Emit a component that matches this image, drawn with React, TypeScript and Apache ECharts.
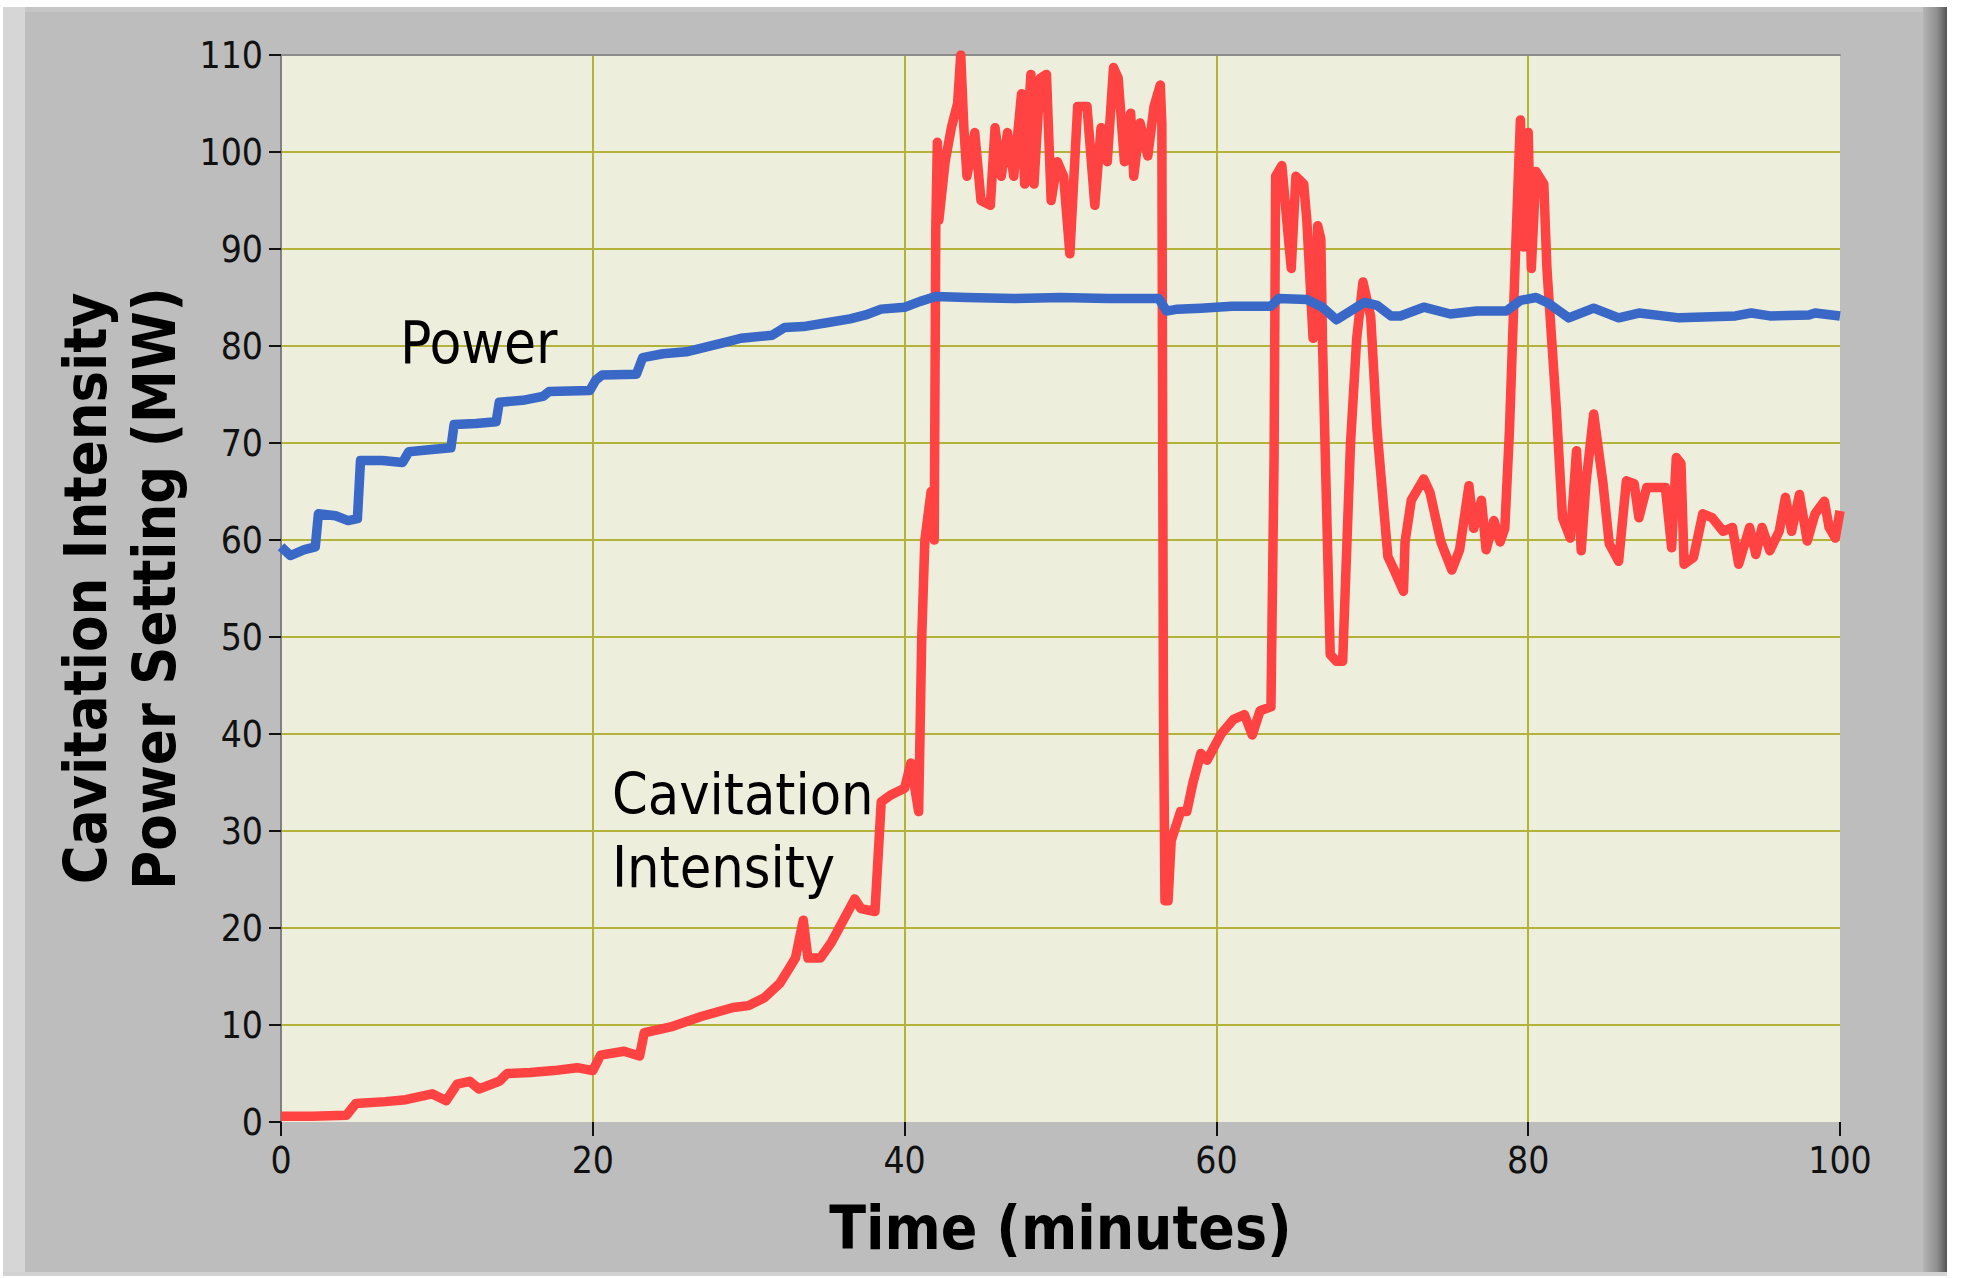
import React, { useEffect, useRef } from "react";
import * as echarts from "echarts";

// ---- data ----
const xTicks = [0, 20, 40, 60, 80, 100];
const yTicks = [0, 10, 20, 30, 40, 50, 60, 70, 80, 90, 100, 110];

const powerTime = [
  0, 0.6, 1.5, 2.2, 2.4, 3.5, 4.3, 4.9, 5.1, 6.5, 7.8, 8.2, 9.5, 10.9, 11.1, 12.5,
  13.8, 14.0, 15.5, 16.8, 17.2, 19.8, 20.2, 20.6, 22.8, 23.2, 24.5, 26.0, 27.3, 28.8,
  29.5, 31.5, 32.3, 33.5, 35.0, 36.5, 37.5, 38.5, 40.0, 41.0, 42.0, 44.0, 47.0, 50.0,
  53.0, 56.3, 56.8, 57.5, 59.0, 61.0, 63.5, 64.0, 65.8, 66.8, 67.7, 68.6, 69.5, 70.3,
  71.2, 71.8, 73.3, 75.0, 76.7, 78.6, 79.5, 80.5, 81.3, 82.6, 84.2, 85.8, 87.1, 89.7,
  93.3, 94.3, 95.5, 98.0, 98.4, 100,
];
const powerValue = [
  59.3, 58.4, 59.0, 59.3, 62.7, 62.5, 62.0, 62.2, 68.2, 68.2, 68.0, 69.1, 69.3, 69.5, 71.9, 72.0,
  72.2, 74.2, 74.4, 74.8, 75.3, 75.4, 76.5, 77.0, 77.1, 78.8, 79.2, 79.4, 79.9, 80.5,
  80.8, 81.1, 81.9, 82.0, 82.4, 82.8, 83.2, 83.8, 84.0, 84.6, 85.1, 85.0, 84.9, 85.0,
  84.9, 84.9, 83.6, 83.8, 83.9, 84.1, 84.1, 84.9, 84.8, 84.0, 82.7, 83.6, 84.5, 84.2,
  83.1, 83.1, 84.0, 83.3, 83.6, 83.6, 84.7, 85.0, 84.4, 82.9, 83.9, 82.9, 83.4, 82.9,
  83.1, 83.4, 83.1, 83.2, 83.4, 83.1,
];

const cavTime = [
  0, 2.0, 4.2, 4.8, 6.7, 8.0, 9.7, 10.6, 11.3, 12.1, 12.7, 14.0, 14.5, 16.0, 17.5, 19.0,
  20.0, 20.5, 22.0, 23.0, 23.3, 25.0, 27.0, 29.0, 30.0, 31.0, 32.0, 32.5, 33.0, 33.5,
  33.8, 34.6, 35.3, 36.0, 36.8, 37.2, 38.1, 38.5, 39.1, 40.0, 40.4, 40.9, 41.1, 41.3,
  41.7, 41.9, 42.0, 42.1, 42.2, 42.6, 43.0, 43.4, 43.6, 43.8, 44.0, 44.5, 44.9, 45.5,
  45.8, 46.2, 46.6, 47.0, 47.5, 47.7, 48.1, 48.3, 48.7, 49.1, 49.4, 49.8, 50.2, 50.6,
  51.1, 51.7, 52.2, 52.6, 53.0, 53.4, 53.7, 54.1, 54.5, 54.7, 55.1, 55.6, 56.0, 56.4,
  56.5, 56.6, 56.7, 56.9, 57.1, 57.7, 58.1, 58.5, 59.0, 59.4, 60.3, 61.1, 61.8, 62.3,
  62.8, 63.5, 63.7, 63.8, 64.2, 64.4, 64.8, 65.1, 65.6, 65.8, 66.2, 66.5, 66.7, 66.8,
  67.3, 67.7, 68.1, 68.6, 69.0, 69.4, 69.9, 70.3, 71.0, 71.4, 72.0, 72.1, 72.5, 73.3,
  73.7, 74.4, 75.1, 75.6, 76.2, 76.5, 77.0, 77.3, 77.8, 78.2, 78.5, 78.8, 79.2, 79.5,
  79.7, 80.0, 80.2, 80.5, 81.0, 81.2, 81.5, 81.8, 82.2, 82.7, 83.1, 83.4, 83.7, 84.2,
  84.8, 85.2, 85.8, 86.3, 86.8, 87.1, 87.6, 88.8, 89.2, 89.5, 89.8, 90.0, 90.6, 91.2,
  91.8, 92.5, 93.1, 93.5, 94.2, 94.6, 95.0, 95.5, 96.1, 96.5, 96.9, 97.4, 97.9, 98.4,
  99.0, 99.3, 99.7, 100,
];
const cavValue = [
  0.6, 0.6, 0.7, 1.9, 2.1, 2.3, 2.9, 2.2, 3.9, 4.2, 3.4, 4.2, 5.0, 5.1, 5.3, 5.6,
  5.3, 6.9, 7.3, 6.8, 9.2, 9.8, 10.9, 11.8, 12.0, 12.8, 14.3, 15.6, 16.9, 20.8,
  16.9, 16.9, 18.5, 20.6, 23.0, 22.0, 21.7, 33.0, 33.7, 34.4, 37.0, 32.0, 50.0, 60.0,
  65.0, 60.0, 92.0, 101.0, 93.0, 99.0, 102.5, 105.0, 110.0, 102.5, 97.5, 102.0, 95.0, 94.5,
  102.5, 97.5, 102.0, 97.5, 106.0, 96.7, 108.0, 96.7, 107.6, 108.0, 95.0, 99.0, 97.5, 89.5,
  104.7, 104.7, 94.5, 102.5, 99.0, 108.7, 107.6, 99.0, 104.0, 97.5, 103.0, 99.6, 104.7, 106.9,
  103.0, 43.8, 22.8, 22.8, 29.0, 32.0, 32.0, 35.0, 38.0, 37.3, 40.0, 41.5, 42.0, 39.9,
  42.4, 42.8, 68.5, 97.5, 98.6, 95.0, 88.0, 97.5, 96.7, 93.0, 80.8, 92.4, 91.0, 80.8,
  48.2, 47.5, 47.5, 69.9, 80.8, 86.6, 83.0, 71.4, 58.3, 56.9, 54.7, 59.8, 64.1, 66.3,
  64.9, 59.8, 56.9, 59.0, 65.6, 61.2, 64.1, 59.0, 62.0, 59.8, 61.2, 71.4, 90.2, 103.3,
  90.2, 102.0, 88.0, 98.0, 96.7, 88.0, 80.8, 73.6, 62.3, 60.2, 69.2, 58.9, 65.8, 73.0,
  65.8, 59.6, 57.8, 66.1, 65.8, 62.3, 65.4, 65.4, 59.2, 68.5, 67.9, 57.5, 58.2, 62.7,
  62.3, 60.9, 61.3, 57.5, 61.3, 58.5, 61.3, 58.9, 60.9, 64.4, 60.9, 64.7, 59.9, 62.7,
  64.0, 61.3, 60.2, 63.0,
];

const powerLabel = "Power";
const cavLabelLines = ["Cavitation", "Intensity"];
const xTitle = "Time (minutes)";
const yTitle = "Cavitation Intensity\nPower Setting (MW)";

const FONT = "'DejaVu Sans Condensed', 'DejaVu Sans', sans-serif";
const W = 1962;
const H = 1278;

export default function App() {
  const ref = useRef<HTMLDivElement>(null);

  useEffect(() => {
    if (!ref.current) return;
    const chart = echarts.init(ref.current, null, { renderer: "svg", width: W, height: H });

    const powerData = powerTime.map((t, i) => [t, powerValue[i]]);
    const cavData = cavTime.map((t, i) => [t, cavValue[i]]);
    const gridColor = "#b3b33a";

    chart.setOption({
      animation: false,
      backgroundColor: "#bdbdbd",
      grid: {
        left: 281,
        right: 122,
        top: 55,
        bottom: 156,
        show: true,
        backgroundColor: "#eeeedd",
        borderWidth: 0,
      },
      xAxis: [
        {
          type: "value",
          min: xTicks[0],
          max: xTicks[xTicks.length - 1],
          interval: 20,
          position: "bottom",
          name: xTitle,
          nameLocation: "middle",
          nameGap: 76,
          nameTextStyle: { fontFamily: FONT, fontSize: 60, fontWeight: "bold", color: "#000" },
          axisLine: { show: false },
          axisTick: { show: true, length: 14, lineStyle: { color: "#111", width: 2 } },
          axisLabel: { margin: 20, fontFamily: FONT, fontSize: 37, color: "#111" },
          splitLine: {
            show: true,
            showMinLine: false,
            showMaxLine: false,
            lineStyle: { color: gridColor, width: 2 },
          },
        },
        {
          type: "value",
          min: 0,
          max: 100,
          position: "top",
          axisLine: { show: true, lineStyle: { color: "#8c8c8c", width: 2 } },
          axisTick: { show: false },
          axisLabel: { show: false },
          splitLine: { show: false },
        },
      ],
      yAxis: {
        type: "value",
        min: yTicks[0],
        max: yTicks[yTicks.length - 1],
        interval: 10,
        name: yTitle,
        nameLocation: "middle",
        nameRotate: 90,
        nameGap: 88,
        nameTextStyle: {
          fontFamily: FONT,
          fontSize: 59,
          fontWeight: "bold",
          color: "#000",
          lineHeight: 69,
        },
        axisLine: { show: true, lineStyle: { color: "#808080", width: 2 } },
        axisTick: { show: true, length: 12, lineStyle: { color: "#111", width: 2 } },
        axisLabel: { margin: 18, fontFamily: FONT, fontSize: 37, color: "#111" },
        splitLine: {
          show: true,
          showMinLine: false,
          showMaxLine: false,
          lineStyle: { color: gridColor, width: 2 },
        },
      },
      series: [
        {
          type: "line",
          name: "Cavitation Intensity",
          data: cavData,
          symbol: "none",
          showSymbol: false,
          clip: true,
          z: 3,
          lineStyle: { color: "#ff4242", width: 9.5, join: "round" },
          emphasis: { disabled: true },
        },
        {
          type: "line",
          name: "Power",
          data: powerData,
          symbol: "none",
          showSymbol: false,
          clip: true,
          z: 4,
          lineStyle: { color: "#3a68c6", width: 9.5, join: "round" },
          emphasis: { disabled: true },
        },
      ],
      graphic: [
        // outer white margins and frame edges
        { type: "rect", shape: { x: 0, y: 0, width: W, height: 7 }, style: { fill: "#ffffff" }, silent: true },
        { type: "rect", shape: { x: 0, y: 0, width: 3, height: H }, style: { fill: "#ffffff" }, silent: true },
        { type: "rect", shape: { x: 3, y: 7, width: 22, height: 1268 }, style: { fill: "#d6d6d6" }, silent: true },
        { type: "rect", shape: { x: 25, y: 7, width: 1898, height: 5 }, style: { fill: "#c6c6c6" }, silent: true },
        {
          type: "rect",
          shape: { x: 1923, y: 7, width: 24, height: 1268 },
          style: {
            fill: new echarts.graphic.LinearGradient(0, 0, 1, 0, [
              { offset: 0, color: "#b4b4b4" },
              { offset: 0.6, color: "#8e8e8e" },
              { offset: 1, color: "#555555" },
            ]),
          },
          silent: true,
        },
        { type: "rect", shape: { x: 1947, y: 0, width: 15, height: H }, style: { fill: "#ffffff" }, silent: true },
        { type: "rect", shape: { x: 3, y: 1272, width: 1944, height: 4 }, style: { fill: "#d2d2d2" }, silent: true },
        { type: "rect", shape: { x: 0, y: 1276, width: W, height: 2 }, style: { fill: "#ffffff" }, silent: true },
        // annotations
        {
          type: "text",
          x: 400,
          y: 343,
          z: 100,
          style: { text: powerLabel, fontFamily: FONT, fontSize: 58, fill: "#000", textVerticalAlign: "middle" },
        },
        {
          type: "text",
          x: 612,
          y: 794,
          z: 100,
          style: { text: cavLabelLines[0], fontFamily: FONT, fontSize: 57, fill: "#000", textVerticalAlign: "middle" },
        },
        {
          type: "text",
          x: 612,
          y: 867,
          z: 100,
          style: { text: cavLabelLines[1], fontFamily: FONT, fontSize: 57, fill: "#000", textVerticalAlign: "middle" },
        },
      ],
    });

    return () => chart.dispose();
  }, []);

  return <div ref={ref} style={{ position: "absolute", left: 0, top: 0, width: W, height: H }} />;
}
